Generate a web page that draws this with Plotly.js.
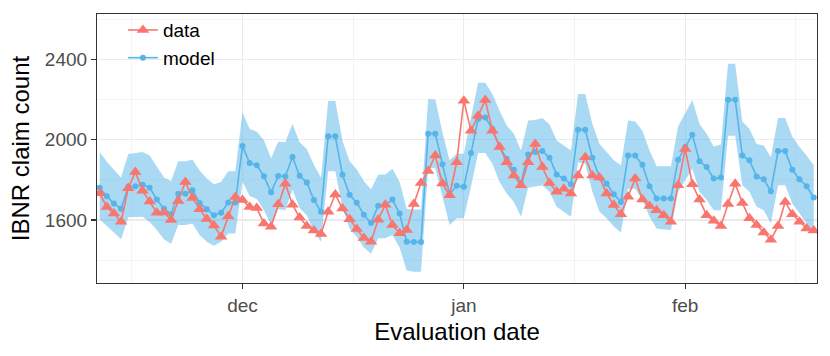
<!DOCTYPE html>
<html>
<head>
<meta charset="utf-8">
<script src="https://cdn.plot.ly/plotly-3.0.1.min.js"></script>
<style>
  html, body { margin: 0; padding: 0; background: #fff; }
  #ibnrPlot { width: 830px; height: 356px; }
</style>
</head>
<body>
<div id="ibnrPlot"></div>
<script>
const IBNR = document.getElementById("ibnrPlot");

// evaluation dates, one per day
var dates = [
  "2018-11-11","2018-11-12","2018-11-13","2018-11-14","2018-11-15","2018-11-16","2018-11-17","2018-11-18","2018-11-19","2018-11-20",
  "2018-11-21","2018-11-22","2018-11-23","2018-11-24","2018-11-25","2018-11-26","2018-11-27","2018-11-28","2018-11-29","2018-11-30",
  "2018-12-01","2018-12-02","2018-12-03","2018-12-04","2018-12-05","2018-12-06","2018-12-07","2018-12-08","2018-12-09","2018-12-10",
  "2018-12-11","2018-12-12","2018-12-13","2018-12-14","2018-12-15","2018-12-16","2018-12-17","2018-12-18","2018-12-19","2018-12-20",
  "2018-12-21","2018-12-22","2018-12-23","2018-12-24","2018-12-25","2018-12-26","2018-12-27","2018-12-28","2018-12-29","2018-12-30",
  "2018-12-31","2019-01-01","2019-01-02","2019-01-03","2019-01-04","2019-01-05","2019-01-06","2019-01-07","2019-01-08","2019-01-09",
  "2019-01-10","2019-01-11","2019-01-12","2019-01-13","2019-01-14","2019-01-15","2019-01-16","2019-01-17","2019-01-18","2019-01-19",
  "2019-01-20","2019-01-21","2019-01-22","2019-01-23","2019-01-24","2019-01-25","2019-01-26","2019-01-27","2019-01-28","2019-01-29",
  "2019-01-30","2019-01-31","2019-02-01","2019-02-02","2019-02-03","2019-02-04","2019-02-05","2019-02-06","2019-02-07","2019-02-08",
  "2019-02-09","2019-02-10","2019-02-11","2019-02-12","2019-02-13","2019-02-14","2019-02-15","2019-02-16","2019-02-17","2019-02-18",
  "2019-02-19"
];

// observed IBNR counts
var dataCount = [
  1733,1665,1632,1591,1758,1839,1746,1692,1636,1637,
  1600,1695,1789,1710,1654,1605,1572,1517,1618,1715,
  1700,1664,1660,1582,1566,1678,1780,1676,1612,1570,
  1548,1530,1641,1727,1657,1603,1555,1510,1492,1601,
  1676,1575,1534,1550,1680,1784,1844,1921,1782,1723,
  1888,2194,2045,2119,2197,2045,1963,1888,1822,1773,
  1888,1979,1864,1784,1740,1756,1732,1822,1913,1822,
  1811,1732,1674,1629,1716,1806,1702,1669,1649,1624,
  1591,1773,1954,1778,1702,1624,1596,1570,1679,1781,
  1685,1608,1575,1537,1501,1570,1690,1629,1591,1558,
  1547
];

// model estimate
var modelCount = [
  1761,1718,1682,1656,1765,1768,1776,1761,1702,1656,
  1629,1731,1731,1748,1685,1654,1624,1636,1687,1687,
  1968,1884,1873,1818,1738,1819,1817,1914,1820,1787,
  1700,1641,2017,2017,1825,1725,1686,1626,1585,1671,
  1674,1702,1632,1492,1490,1490,2030,2030,1878,1728,
  1770,1765,1933,2103,2111,2053,1966,1905,1850,1784,
  1926,1938,1943,1910,1827,1806,1778,2050,2050,1910,
  1811,1781,1728,1690,1921,1921,1875,1768,1707,1707,
  1707,1900,1963,2025,1893,1864,1806,1811,2199,2199,
  1921,1897,1817,1803,1743,1943,1943,1850,1803,1768,
  1712
];

// model interval
var modelUpper = [
  1938,1890,1850,1811,1929,1933,1938,1921,1867,1811,
  1794,1892,1893,1900,1847,1806,1778,1789,1843,1843,
  2136,2053,2040,1997,1908,1990,1987,2078,1987,1954,
  1875,1810,2192,2192,1995,1892,1851,1794,1752,1825,
  1826,1855,1790,1655,1652,1652,2203,2200,2037,1897,
  1930,1930,2111,2284,2284,2227,2144,2070,2029,1946,
  2095,2098,2108,2075,1996,1971,1946,2227,2227,2078,
  1979,1938,1897,1872,2095,2091,2045,1946,1867,1867,
  1867,2065,2131,2197,2078,2029,1966,1976,2378,2378,
  2091,2053,1979,1971,1913,2108,2108,2015,1963,1921,
  1872
];
var modelLower = [
  1603,1570,1535,1504,1613,1615,1616,1590,1550,1504,
  1481,1575,1575,1583,1525,1492,1471,1492,1532,1533,
  1790,1720,1705,1650,1575,1655,1649,1750,1660,1624,
  1542,1492,1843,1843,1660,1558,1517,1463,1432,1509,
  1509,1525,1463,1348,1342,1342,1858,1858,1715,1575,
  1608,1608,1765,1933,1933,1880,1789,1732,1690,1616,
  1761,1768,1773,1740,1666,1641,1616,1888,1880,1740,
  1641,1608,1567,1537,1756,1756,1699,1616,1558,1553,
  1550,1740,1798,1855,1740,1699,1649,1649,2020,2020,
  1773,1740,1666,1649,1583,1773,1773,1682,1633,1583,
  1534
];

var majorX = ["2018-12-01", "2019-01-01", "2019-02-01"];
var majorXLabels = ["dec", "jan", "feb"];
var minorX = ["2018-11-15 12:00", "2018-12-16 12:00", "2019-01-16 12:00", "2019-02-16 12:00"];
var majorY = [1600, 2000, 2400];
var minorY = [1400, 1800, 2200, 2600];

const RED = "#F8766D";
const BLUE = "#56B4E9";
const FONT = "Liberation Sans, Arial, sans-serif";

var traces = [
  {
    x: dates, y: modelLower,
    mode: "lines", line: {width: 0, color: BLUE},
    showlegend: false, hoverinfo: "skip"
  },
  {
    x: dates, y: modelUpper,
    mode: "lines", line: {width: 0, color: BLUE},
    fill: "tonexty", fillcolor: "rgba(86,180,233,0.5)",
    showlegend: false, hoverinfo: "skip"
  },
  {
    x: dates, y: modelCount, name: "model", legendrank: 2,
    mode: "lines+markers",
    line: {color: BLUE, width: 1.6},
    marker: {color: BLUE, size: 6, symbol: "circle"}
  },
  {
    x: dates, y: dataCount, name: "data", legendrank: 1,
    mode: "lines+markers",
    line: {color: RED, width: 1.6},
    marker: {color: RED, size: 11, symbol: "triangle-up"}
  }
];

var axisCommon = {
  showline: true, mirror: true, linecolor: "#333333", linewidth: 1.1,
  ticks: "outside", ticklen: 5, tickwidth: 1.1, tickcolor: "#333333",
  tickfont: {family: FONT, size: 19, color: "#4D4D4D"},
  showgrid: true, gridcolor: "#EBEBEB", gridwidth: 1.1,
  zeroline: false
};

var layout = {
  width: 830, height: 356,
  margin: {l: 97, r: 13, t: 13, b: 73},
  paper_bgcolor: "#ffffff", plot_bgcolor: "#ffffff",
  font: {family: FONT},
  showlegend: true,
  legend: {
    x: 0.036, y: 1.007, xanchor: "left", yanchor: "top",
    traceorder: "normal",
    bgcolor: "rgba(0,0,0,0)", borderwidth: 0,
    font: {family: FONT, size: 19, color: "#000000"},
    itemwidth: 30
  },
  xaxis: Object.assign({}, axisCommon, {
    type: "date",
    range: ["2018-11-10 15:00", "2019-02-19 11:00"],
    tickmode: "array", tickvals: majorX, ticktext: majorXLabels,
    minor: {tickmode: "array", tickvals: minorX, showgrid: true, gridcolor: "#EBEBEB", gridwidth: 0.55, ticks: ""},
    title: {text: "Evaluation date", font: {family: FONT, size: 24, color: "#000000"}, standoff: 8}
  }),
  yaxis: Object.assign({}, axisCommon, {
    range: [1286, 2626],
    tickmode: "array", tickvals: majorY,
    minor: {tickmode: "array", tickvals: minorY, showgrid: true, gridcolor: "#EBEBEB", gridwidth: 0.55, ticks: ""},
    title: {text: "IBNR claim count", font: {family: FONT, size: 24, color: "#000000"}, standoff: 8}
  })
};

Plotly.newPlot(IBNR, traces, layout, {displayModeBar: false, staticPlot: true});
</script>
</body>
</html>
